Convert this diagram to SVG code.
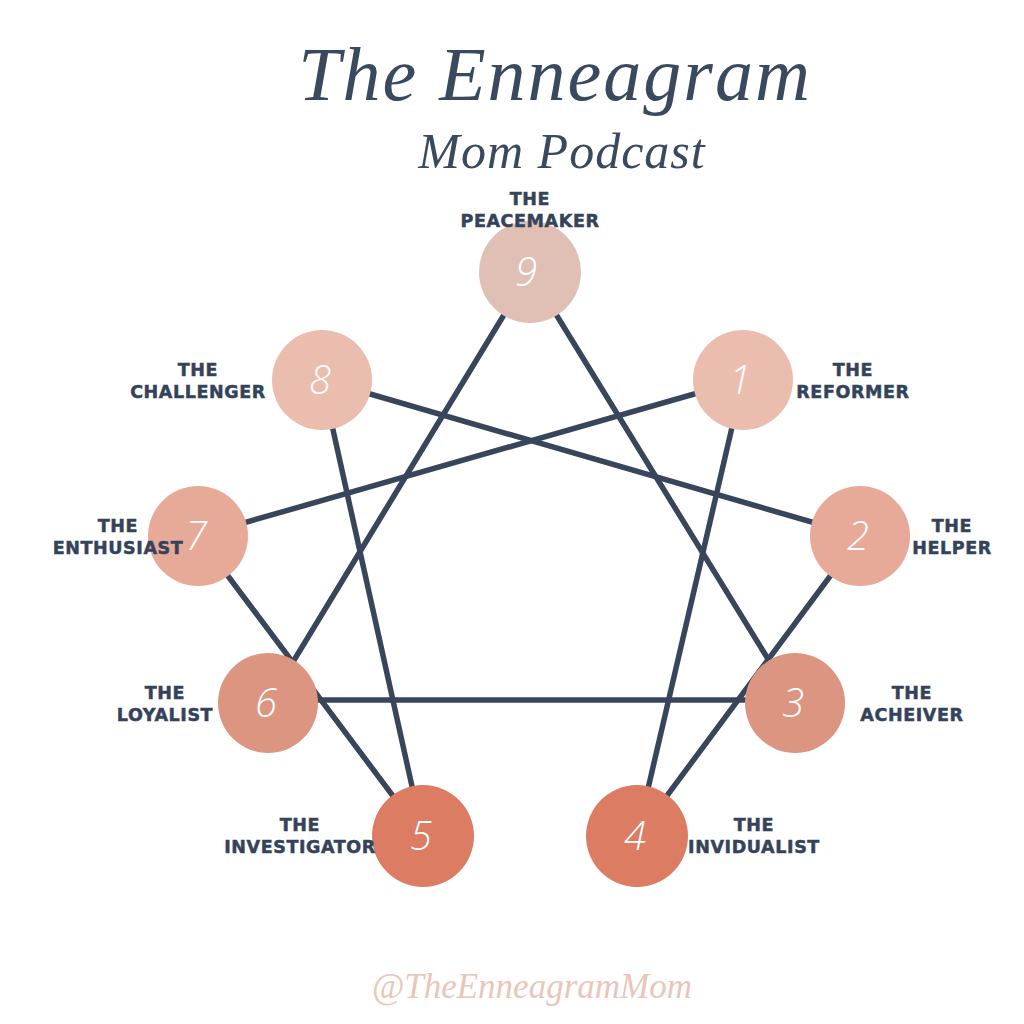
<svg xmlns="http://www.w3.org/2000/svg" width="1024" height="1024" viewBox="0 0 1024 1024">
<style>
.lbl{font-family:"DejaVu Sans",Lato,sans-serif;font-weight:bold;font-size:17.5px;fill:#34435a;stroke:#34435a;stroke-width:0.5px;letter-spacing:0.6px;text-anchor:middle}
.num{font-family:"Open Sans","Liberation Sans",sans-serif;font-weight:300;font-style:italic;font-size:40px;fill:#ffffff;text-anchor:middle}
.ln{stroke:#38465b;stroke-width:5.5;stroke-linecap:round;fill:none}
.title{font-family:"Liberation Serif",serif;font-style:italic;fill:#3a4a5e;text-anchor:middle}
</style>
<rect width="1024" height="1024" fill="#ffffff"/>
<text class="title" x="555" y="100" font-size="76" letter-spacing="2">The Enneagram</text>
<text class="title" x="562" y="168" font-size="50" letter-spacing="1">Mom Podcast</text>
<g id="connectors">
<line class="ln" x1="530" y1="272" x2="268" y2="703"/>
<line class="ln" x1="530" y1="272" x2="795" y2="703"/>
<line class="ln" x1="268" y1="700" x2="795" y2="700"/>
<line class="ln" x1="743" y1="380" x2="637" y2="836"/>
<line class="ln" x1="860" y1="536" x2="637" y2="836"/>
<line class="ln" x1="860" y1="536" x2="322" y2="380"/>
<line class="ln" x1="322" y1="380" x2="423" y2="836"/>
<line class="ln" x1="198" y1="536" x2="423" y2="836"/>
<line class="ln" x1="198" y1="536" x2="743" y2="380"/>
</g>
<g id="n9"><circle cx="530" cy="272" r="51" fill="#e0bfb5"/><text class="num" x="526" y="286">9</text><text class="lbl" x="530" y="205">THE</text><text class="lbl" x="530" y="227">PEACEMAKER</text></g>
<g id="n8"><circle cx="322" cy="380" r="50" fill="#ebbdaf"/><text class="num" x="320" y="394">8</text><text class="lbl" x="198" y="376">THE</text><text class="lbl" x="198" y="398">CHALLENGER</text></g>
<g id="n1"><circle cx="743" cy="380" r="50" fill="#ebbdaf"/><text class="num" x="740" y="394">1</text><text class="lbl" x="853" y="376">THE</text><text class="lbl" x="853" y="398">REFORMER</text></g>
<g id="n7"><circle cx="198" cy="536" r="50" fill="#e8aa98"/><text class="num" x="196" y="550">7</text><text class="lbl" x="118" y="532">THE</text><text class="lbl" x="118" y="554">ENTHUSIAST</text></g>
<g id="n2"><circle cx="860" cy="536" r="50" fill="#e8aa98"/><text class="num" x="858" y="550">2</text><text class="lbl" x="952" y="532">THE</text><text class="lbl" x="952" y="554">HELPER</text></g>
<g id="n6"><circle cx="268" cy="703" r="50" fill="#dc9580"/><text class="num" x="266" y="717">6</text><text class="lbl" x="165" y="699">THE</text><text class="lbl" x="165" y="721">LOYALIST</text></g>
<g id="n3"><circle cx="795" cy="703" r="50" fill="#dc9580"/><text class="num" x="793" y="717">3</text><text class="lbl" x="912" y="699">THE</text><text class="lbl" x="912" y="721">ACHEIVER</text></g>
<g id="n5"><circle cx="423" cy="836" r="51" fill="#dc7c62"/><text class="num" x="421" y="850">5</text><text class="lbl" x="300" y="831">THE</text><text class="lbl" x="300" y="853">INVESTIGATOR</text></g>
<g id="n4"><circle cx="637" cy="836" r="51" fill="#dc7c62"/><text class="num" x="635" y="850">4</text><text class="lbl" x="754" y="831">THE</text><text class="lbl" x="754" y="853">INVIDUALIST</text></g>
<text x="532" y="998" font-family="Liberation Serif,serif" font-style="italic" font-size="35" fill="#e9c6ba" text-anchor="middle">@TheEnneagramMom</text>
</svg>
